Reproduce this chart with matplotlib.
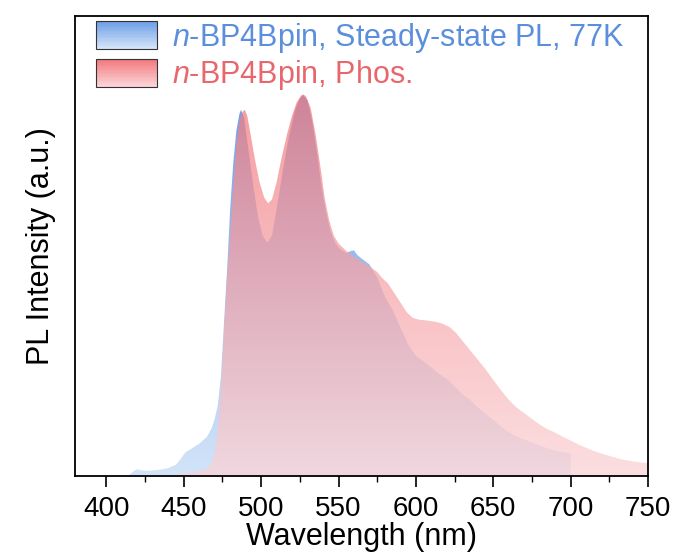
import numpy as np
import matplotlib
matplotlib.use('Agg')
import matplotlib.pyplot as plt
from matplotlib.colors import LinearSegmentedColormap
from matplotlib.patches import Rectangle
from matplotlib.legend_handler import HandlerBase

plt.rcParams['font.family'] = ['Liberation Sans', 'DejaVu Sans']
plt.rcParams['mathtext.fontset'] = 'custom'
plt.rcParams['mathtext.it'] = 'Liberation Sans:italic'
plt.rcParams['mathtext.rm'] = 'Liberation Sans'

# steady-state PL at 77K (wavelength nm, normalised intensity)
pl_wl = [410, 415, 418, 420, 423, 426, 430, 435, 440, 445, 448, 451, 455, 460, 465, 468,
         470, 472, 474, 476, 478, 480, 482, 484, 486, 487, 489, 492, 495, 498, 501, 504,
         507, 510, 514, 518, 522, 525, 527, 530, 533, 536, 539, 542, 545, 548, 551, 555,
         558, 560, 562, 565, 570, 575, 580, 585, 590, 595, 600, 605, 610, 615, 620, 625,
         630, 635, 640, 645, 650, 655, 660, 665, 670, 675, 680, 685, 690, 695, 700, 700]
pl_int = [0, 0.004, 0.014, 0.018, 0.015, 0.014, 0.015, 0.017, 0.021, 0.030, 0.045, 0.062,
          0.072, 0.085, 0.103, 0.125, 0.150, 0.185, 0.26, 0.40, 0.54, 0.70, 0.82, 0.905,
          0.95, 0.96, 0.94, 0.85, 0.76, 0.68, 0.63, 0.612, 0.63, 0.70, 0.80, 0.89, 0.96,
          0.99, 1.0, 0.985, 0.93, 0.85, 0.76, 0.69, 0.64, 0.61, 0.595, 0.585, 0.59, 0.592,
          0.58, 0.57, 0.555, 0.52, 0.47, 0.435, 0.39, 0.345, 0.315, 0.30, 0.285, 0.268,
          0.255, 0.235, 0.215, 0.20, 0.18, 0.163, 0.147, 0.13, 0.115, 0.104, 0.096, 0.088,
          0.08, 0.073, 0.067, 0.063, 0.06, 0]

# phosphorescence
ph_wl = [430, 440, 450, 455, 460, 465, 468, 470, 472, 474, 476, 478, 480, 482, 484, 486,
         488, 489.5, 491, 493, 496, 499, 502, 504.5, 507, 510, 513, 517, 520, 523, 526,
         527.5, 529, 532, 535, 538, 541, 544, 547, 550, 555, 560, 565, 570, 575, 578, 582,
         586, 590, 594, 598, 602, 607, 612, 617, 622, 626, 630, 635, 640, 645, 650, 655,
         660, 665, 670, 675, 680, 685, 690, 695, 700, 705, 710, 715, 720, 725, 730, 735,
         740, 745, 750]
ph_int = [0, 0.003, 0.006, 0.009, 0.013, 0.018, 0.035, 0.06, 0.12, 0.22, 0.38, 0.52, 0.63,
          0.76, 0.87, 0.93, 0.955, 0.96, 0.945, 0.90, 0.83, 0.77, 0.73, 0.715, 0.725, 0.77,
          0.83, 0.90, 0.945, 0.98, 0.998, 1.0, 0.995, 0.965, 0.90, 0.82, 0.73, 0.67, 0.63,
          0.61, 0.59, 0.575, 0.562, 0.55, 0.535, 0.52, 0.505, 0.48, 0.455, 0.43, 0.415,
          0.41, 0.408, 0.405, 0.40, 0.39, 0.375, 0.355, 0.33, 0.305, 0.28, 0.252, 0.225,
          0.20, 0.18, 0.165, 0.15, 0.135, 0.123, 0.114, 0.103, 0.093, 0.083, 0.074, 0.066,
          0.059, 0.053, 0.047, 0.042, 0.039, 0.036, 0.034]

labels = [r'$\it{n}$-BP4Bpin, Steady-state PL, 77K', r'$\it{n}$-BP4Bpin, Phos.']
blue_top, blue_bot = '#6f9fe6', '#d3e4f8'
red_top, red_bot = '#f27a7e', '#fbd3d6'
text_colors = ['#5b8fdc', '#e8676c']

fig = plt.figure(figsize=(6.73, 5.53), dpi=100)
ax = fig.add_axes([0.112, 0.139, 0.851, 0.832])
ymax = 1.206


def gradient_fill(x, y, c_top, c_bot, alpha, z):
    poly = ax.fill_between(x, y, 0, color='none', lw=0)
    cmap = LinearSegmentedColormap.from_list('g', [c_bot, c_top])
    grad = np.linspace(0, 1, 256).reshape(-1, 1)
    im = ax.imshow(grad, cmap=cmap, aspect='auto', origin='lower',
                   extent=[380, 750, 0, max(y)], alpha=alpha, zorder=z)
    im.set_clip_path(poly.get_paths()[0], transform=ax.transData)


gradient_fill(pl_wl, pl_int, blue_top, blue_bot, 1.0, 1)
gradient_fill(ph_wl, ph_int, red_top, red_bot, 0.74, 2)
ax.set_xlim(380, 750)
ax.set_ylim(0, ymax)


class GradHandler(HandlerBase):
    def __init__(self, c_top, c_bot):
        super().__init__()
        self.c_top, self.c_bot = c_top, c_bot

    def create_artists(self, legend, orig, xd, yd, w, h, fontsize, trans):
        cmap = LinearSegmentedColormap.from_list('g', [self.c_bot, self.c_top])
        arts = []
        n = 20
        for i in range(n):
            arts.append(Rectangle((-xd, -yd + h * i / n), w, h / n + 0.3,
                                  facecolor=cmap(i / (n - 1)), edgecolor='none',
                                  transform=trans))
        arts.append(Rectangle((-xd, -yd), w, h, facecolor='none', edgecolor='#333333',
                              lw=0.8, transform=trans))
        return arts


h1 = Rectangle((0, 0), 1, 1)
h2 = Rectangle((0, 0), 1, 1)
leg = ax.legend([h1, h2], labels, loc='upper left', bbox_to_anchor=(0.036, 0.99),
                frameon=False, fontsize=22, handlelength=2.0, handleheight=1.0,
                handletextpad=0.5, labelspacing=0.12, borderaxespad=0, borderpad=0,
                handler_map={h1: GradHandler(blue_top, blue_bot),
                             h2: GradHandler(red_top, red_bot)})
for t, c in zip(leg.get_texts(), text_colors):
    t.set_color(c)

ax.set_xticks(np.arange(400, 751, 50))
ax.set_xticks(np.arange(425, 751, 50), minor=True)
ax.set_yticks([])
ax.tick_params(axis='x', which='major', length=8, width=1.2, labelsize=20, pad=6)
ax.tick_params(axis='x', which='minor', length=4, width=1.0)
for s in ax.spines.values():
    s.set_linewidth(1.3)
ax.set_xlabel('Wavelength (nm)', fontsize=22, labelpad=0)
ax.set_ylabel('PL Intensity (a.u.)', fontsize=22, labelpad=14)

fig.savefig('out.png', dpi=100)
